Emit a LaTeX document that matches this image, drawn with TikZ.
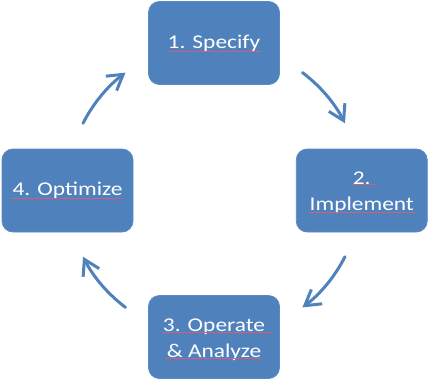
\documentclass[tikz,border=0pt]{standalone}
\usepackage{fontspec}
\setmainfont{Carlito}[FakeStretch=1.2]
\usetikzlibrary{arrows.meta}
\definecolor{boxblue}{HTML}{4F81BD}
\definecolor{boxedge}{HTML}{5A8AC6}
\definecolor{spell}{HTML}{D0607A}
\begin{document}
\begin{tikzpicture}[x=1pt,y=1pt,
  stage/.style={rectangle, rounded corners=11pt, fill=boxblue, draw=boxedge, line width=0.8pt,
    minimum width=131pt, minimum height=83pt, inner sep=0pt, text=white,
    font=\fontsize{19.5}{26}\selectfont, align=center, text depth=3pt},
  oneline/.style={text height=13pt},
  twoline/.style={text height=43.5pt},
  cyc/.style={draw=boxblue, line width=3pt, line cap=round, line join=round,
    -{Straight Barb[length=15pt,width=18pt]}},
  spellmark/.style={draw=spell, line width=0.7pt}]
\useasboundingbox (0,0) rectangle (430,-378);
\coordinate (hub) at (214,-190);
\node[stage, oneline] (spec) at (214,-43) {1. Specify};
\node[stage, twoline] (impl) at (361.75,-190.5) {2.\\Implement};
\node[stage, twoline] (oper) at (214,-337) {3. Operate\\\& Analyze};
\node[stage, oneline] (opti) at (67.5,-190.5) {4. Optimize};
% spell-check underlines
\draw[spellmark] ([shift={(-46,-8)}]spec.center) -- ([shift={(47,-8)}]spec.center);
\draw[spellmark] ([shift={(-8.5,6.5)}]impl.center) -- ([shift={(15.5,6.5)}]impl.center);
\draw[spellmark] ([shift={(-53.5,-21.5)}]impl.center) -- ([shift={(53.5,-21.5)}]impl.center);
\draw[spellmark] ([shift={(-52,5)}]oper.center) -- ([shift={(59,5)}]oper.center);
\draw[spellmark] ([shift={(-48,-21)}]oper.center) -- ([shift={(48,-21)}]oper.center);
\draw[spellmark] ([shift={(-56.5,-7.5)}]opti.center) -- ([shift={(55.5,-7.5)}]opti.center);
% cycle arrows
\draw[cyc] ([shift={(53:147)}]hub) arc[start angle=53, end angle=27, radius=147pt];
\draw[cyc] ([shift={(-27:147)}]hub) arc[start angle=-27, end angle=-53, radius=147pt];
\draw[cyc] ([shift={(-127:147)}]hub) arc[start angle=-127, end angle=-153, radius=147pt];
\draw[cyc] ([shift={(153:147)}]hub) arc[start angle=153, end angle=127, radius=147pt];
\end{tikzpicture}
\end{document}
